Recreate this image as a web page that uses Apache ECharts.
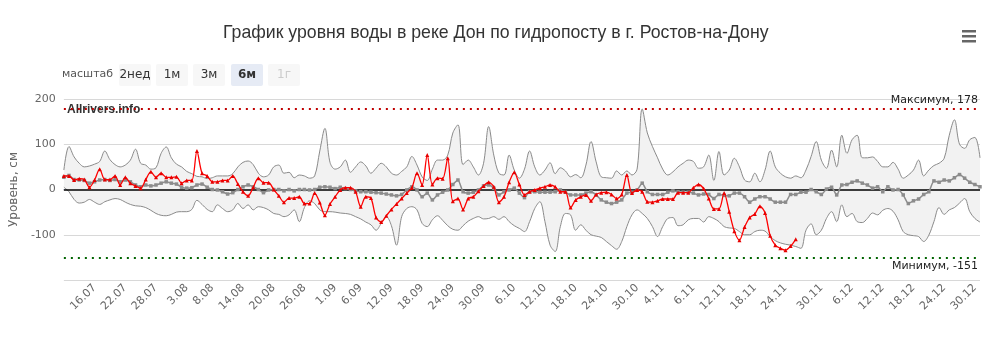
<!DOCTYPE html>
<html>
<head>
<meta charset="utf-8">
<script src="https://cdn.jsdelivr.net/npm/echarts@6/dist/echarts.min.js"></script>
<style>
  html, body { margin: 0; padding: 0; background: #fff; }
  #chart { width: 1004px; height: 341px; }
</style>
</head>
<body>
<div id="chart"></div>
<script>
// Day positions (index from 10.07) that carry an x-axis label, and the labels themselves
const tickDays = [6, 12, 18, 24, 29, 35, 41, 47, 53, 58, 64, 70, 76, 82, 88, 94, 100, 106, 112, 117, 123, 129, 135, 141, 148, 154, 160, 166, 172, 178];
const tickLabels = ['16.07', '22.07', '28.07', '3.08', '8.08', '14.08', '20.08', '26.08', '1.09', '6.09', '12.09', '18.09', '24.09', '30.09', '6.10', '12.10', '18.10', '24.10', '30.10', '4.11', '6.11', '12.11', '18.11', '24.11', '30.11', '6.12', '12.12', '18.12', '24.12', '30.12'];

// Historical maximum by day, cm
const histMax = [43, 95, 72, 58, 50, 52, 56, 62, 85, 66, 55, 50, 54, 65, 89, 58, 54, 45, 48, 80,
  94, 70, 56, 50, 40, 35, 29, 28, 24, 26, 30, 30, 30, 35, 50, 60, 63, 55, 36, 28,
  32, 50, 54, 36, 38, 26, 32, 30, 25, 30, 85, 135, 60, 45, 50, 65, 38, 50, 61, 52,
  36, 47, 58, 50, 36, 32, 40, 50, 73, 54, 28, 20, 45, 65, 65, 76, 125, 143, 55, 65,
  50, 32, 58, 139, 76, 36, 32, 76, 43, 25, 45, 85, 50, 32, 43, 59, 35, 48, 41, 28,
  33, 26, 54, 106, 61, 28, 26, 25, 41, 32, 41, 32, 45, 178, 125, 95, 70, 45, 32, 39,
  50, 58, 65, 62, 47, 50, 76, 20, 84, 32, 43, 69, 50, 21, 17, 36, 17, 43, 85, 50,
  36, 28, 25, 30, 26, 43, 73, 106, 65, 47, 87, 50, 120, 80, 110, 120, 70, 70, 72, 62,
  50, 50, 60, 45, 25, 32, 43, 65, 30, 43, 53, 58, 69, 120, 154, 100, 91, 110, 115, 70];

// Historical minimum by day, cm
const histMin = [5, -5, -22, -30, -28, -22, -28, -33, -27, -23, -20, -22, -28, -33, -36, -37, -40, -46, -53, -57,
  -58, -55, -50, -49, -49, -44, -24, -33, -44, -49, -34, -42, -49, -45, -31, -42, -34, -45, -38, -40,
  -45, -53, -55, -60, -56, -45, -71, -40, -25, -31, -45, -49, -49, -50, -52, -53, -55, -60, -65, -72,
  -78, -90, -75, -60, -80, -123, -60, -42, -38, -45, -75, -82, -67, -58, -68, -80, -88, -90, -80, -70,
  -64, -60, -65, -64, -60, -66, -60, -71, -80, -86, -93, -71, -42, -27, -71, -123, -137, -82, -53, -56,
  -90, -78, -90, -100, -103, -106, -115, -124, -132, -115, -82, -56, -45, -53, -64, -82, -104, -82, -64, -62,
  -80, -78, -67, -64, -64, -72, -60, -64, -71, -82, -85, -86, -93, -100, -100, -93, -90, -92, -104, -113,
  -118, -121, -123, -126, -130, -90, -76, -100, -90, -64, -49, -71, -34, -60, -53, -71, -73, -64, -52, -56,
  -46, -42, -48, -67, -93, -100, -102, -104, -115, -101, -71, -40, -55, -45, -40, -30, -20, -49, -64, -72];

// Long-term average by day, cm
const histAvg = [27, 31, 22, 21, 20, 14, 17, 21, 22, 20, 22, 17, 21, 17, 10, 6, 10, 8, 10, 14,
  17, 14, 12, 5, 3, 4, 10, 12, 5, 0, -1, -5, -10, -7, 0, 6, 10, 6, 0, -7,
  -1, 0, 0, -3, 0, -3, 0, 0, -1, 0, 5, 6, 5, 2, 5, 2, 0, -3, -5, -5,
  -6, -7, -8, -10, -12, -14, -11, -1, 6, -1, -16, -8, -23, -12, -6, -1, 11, 21, -5, -8,
  -6, -1, 8, 10, 3, -12, -5, -1, 3, -8, -18, -5, -5, -6, -6, -6, -5, -1, -6, -12,
  -12, -12, -8, -5, -12, -23, -28, -31, -28, -23, -8, -6, -1, 14, -5, -11, -11, -11, -6, -3,
  -5, -6, -6, -8, -12, -10, -11, -20, -11, -13, -14, -8, -8, -16, -28, -21, -16, -16, -21, -28,
  -28, -28, -11, -11, -6, -6, 0, -5, -11, 1, 5, -12, 10, 11, 16, 19, 14, 10, 3, 6,
  -5, 6, -1, 0, -12, -31, -25, -21, -11, -5, 19, 16, 21, 19, 26, 33, 25, 16, 11, 6];

// Current year level by day, cm
const levelNow = [30, 30, 21, 24, 22, 5, 21, 45, 22, 22, 30, 10, 27, 14, 8, 3, 22, 39, 27, 36,
  27, 27, 28, 14, 20, 20, 85, 36, 30, 17, 17, 20, 20, 30, 12, -5, -14, 5, 25, 15,
  15, 0, -14, -28, -19, -19, -16, -31, -31, -8, -29, -57, -32, -16, -1, 4, 4, -5, -38, -16,
  -19, -62, -72, -58, -44, -32, -20, -8, 4, 36, 10, 76, 11, 25, 24, 69, -26, -20, -44, -20,
  -16, -4, 8, 16, 6, -28, -16, 16, 38, 11, -12, -5, -1, 3, 6, 10, 6, -5, -5, -40,
  -23, -16, -12, -25, -11, -7, -6, -11, -20, -11, 32, -8, -1, -5, -27, -28, -25, -21, -21, -21,
  -7, -7, -7, 4, 11, 2, -20, -43, -43, -8, -49, -92, -112, -83, -62, -54, -37, -52, -102, -123,
  -130, -134, -125, -110];

const maxLevel = 178;
const minLevel = -151;

const titleText = 'График уровня воды в реке Дон по гидропосту в г. Ростов-на-Дону';
const yAxisTitle = 'Уровень, см';
const creditText = 'Allrivers.info';
const zoomLabel = 'масштаб';
const zoomButtons = ['2нед', '1м', '3м', '6м', '1г'];
const zoomSelected = '6м';
const zoomDisabled = '1г';

const FONT = 'DejaVu Sans';

// one category per day; only the ticked days get a visible label
const labelByDay = {};
tickDays.forEach((d, i) => { labelByDay[d] = tickLabels[i]; });
const dayCategories = histAvg.map((_, i) => labelByDay[i] || '');
const isTicked = idx => labelByDay[idx] !== undefined;

// band drawn as the minimum plus the stacked span up to the maximum
const bandSpan = histMax.map((v, i) => v - histMin[i]);

const chart = echarts.init(document.getElementById('chart'), null, { renderer: 'canvas' });

// range selector buttons, menu icon and credit text
const graphics = [];
graphics.push({
  type: 'text', left: 62, top: 69,
  style: { text: zoomLabel, font: '11px ' + FONT, fill: '#555' }
});
const btnLeft = [119, 156, 193, 231, 268];
zoomButtons.forEach((b, i) => {
  const sel = b === zoomSelected, dis = b === zoomDisabled;
  graphics.push({
    type: 'group', left: btnLeft[i], top: 64,
    children: [
      { type: 'rect', shape: { x: 0, y: 0, width: 32, height: 22, r: 2 },
        style: { fill: sel ? '#e6ebf5' : '#f7f7f7' } },
      { type: 'text', x: 16, y: 11,
        style: { text: b, font: (sel ? 'bold ' : '') + '12px ' + FONT,
          fill: dis ? '#cccccc' : '#333', align: 'center', verticalAlign: 'middle' } }
    ]
  });
});
[0, 5, 10].forEach(dy => {
  graphics.push({ type: 'rect', left: 962, top: 30 + dy,
    shape: { x: 0, y: 0, width: 14, height: 2.5 }, style: { fill: '#666' } });
});
graphics.push({
  type: 'text', left: 67, top: 104,
  style: { text: creditText, font: 'bold 12px "Liberation Sans"', fill: '#333' }
});

const option = {
  animation: false,
  backgroundColor: '#fff',
  title: {
    text: titleText, left: 218, top: 19,
    textStyle: { fontFamily: 'Liberation Sans', fontSize: 17.7, fontWeight: 'normal', color: '#333' }
  },
  graphic: graphics,
  grid: { left: 61, right: 24, top: 99, bottom: 61, containLabel: false },
  xAxis: {
    type: 'category', data: dayCategories, boundaryGap: false,
    axisLine: { show: true, lineStyle: { color: '#ccd6eb', width: 1 } },
    axisTick: { show: true, length: 10, lineStyle: { color: '#ccd6eb' }, interval: isTicked },
    axisLabel: {
      interval: isTicked, rotate: 45, color: '#666', fontFamily: FONT, fontSize: 11, margin: 6
    },
    splitLine: { show: false }
  },
  yAxis: {
    type: 'value', min: -200, max: 200, interval: 100,
    name: yAxisTitle, nameLocation: 'middle', nameGap: 42, nameRotate: 90,
    nameTextStyle: { color: '#666', fontFamily: FONT, fontSize: 12 },
    axisLine: { show: false }, axisTick: { show: false },
    axisLabel: { color: '#666', fontFamily: FONT, fontSize: 11, margin: 8,
      formatter: v => v === -200 ? '' : String(v) },
    splitLine: { lineStyle: { color: '#d8d8d8', width: 1 } }
  },
  series: [
    {
      name: 'min', type: 'line', data: histMin, stack: 'band', stackStrategy: 'all',
      smooth: 0.35, symbol: 'none', z: 1,
      lineStyle: { color: '#8a8a8a', width: 1 }
    },
    {
      name: 'max', type: 'line', data: bandSpan, stack: 'band', stackStrategy: 'all',
      smooth: 0.35, symbol: 'none', z: 1,
      lineStyle: { color: '#8a8a8a', width: 1 },
      areaStyle: { color: '#f2f2f2', opacity: 1 },
      markLine: {
        silent: true, symbol: 'none', z: 3,
        data: [
          { yAxis: 0, lineStyle: { color: '#000', width: 1.5, type: 'solid' }, label: { show: false } },
          { yAxis: maxLevel, lineStyle: { color: '#c00000', width: 2, type: [2, 5] },
            label: { show: true, position: 'insideEndTop', formatter: 'Максимум, ' + maxLevel,
              color: '#222', fontFamily: FONT, fontSize: 11, distance: [2, 3] } },
          { yAxis: minLevel, lineStyle: { color: '#006400', width: 2, type: [2, 5] },
            label: { show: true, position: 'insideEndBottom', formatter: 'Минимум, ' + minLevel,
              color: '#222', fontFamily: FONT, fontSize: 11, distance: [2, 3] } }
        ]
      }
    },
    {
      name: 'avg', type: 'line', data: histAvg, smooth: 0.2, z: 4,
      symbol: 'rect', symbolSize: 3.5, showAllSymbol: true,
      itemStyle: { color: '#8c8c8c' },
      lineStyle: { color: '#8c8c8c', width: 1.5 }
    },
    {
      name: 'now', type: 'line', data: levelNow, smooth: 0.3, z: 5,
      symbol: 'triangle', symbolSize: 4, showAllSymbol: true,
      itemStyle: { color: '#e60000' },
      lineStyle: { color: '#ff0000', width: 1.3 }
    }
  ]
};
chart.setOption(option);
</script>
</body>
</html>
